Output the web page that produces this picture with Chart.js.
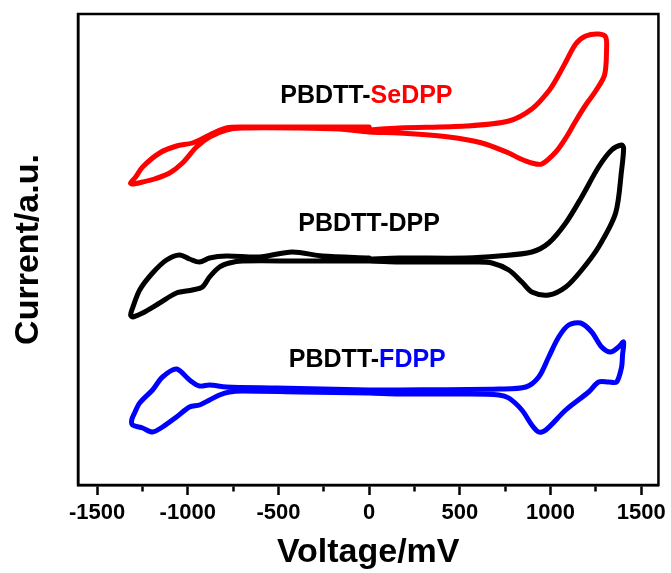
<!DOCTYPE html>
<html>
<head>
<meta charset="utf-8">
<script src="https://cdn.jsdelivr.net/npm/chart.js@4/dist/chart.umd.min.js"></script>
<style>
  html, body { margin: 0; padding: 0; background: #ffffff; }
  #wrap { width: 671px; height: 573px; }
</style>
</head>
<body>
<div id="wrap"><canvas id="c" width="671" height="573"></canvas></div>
<script>
// ---- data (voltage in mV, current in arbitrary units) ----
const seDppV = [0, 165, 534, 770, 897, 990, 1045, 1084, 1139, 1194, 1265, 1304, 1309, 1298, 1249, 1194, 1139, 1084, 1029, 952, 897, 825, 770, 622, 440, 165, 0, -165, -385, -699, -787, -880, -952, -1029, -1100, -1183, -1249, -1304, -1315, -1287, -1249, -1155, -1062, -974, -880, -787, -699, -385, 0];
const seDppI = [35.5, 35.7, 35.9, 36.4, 37.6, 39.4, 41.0, 42.3, 44.1, 44.9, 45.1, 44.8, 43.5, 41.0, 39.4, 38.0, 36.4, 34.7, 33.3, 32.1, 32.2, 32.7, 33.2, 34.2, 34.8, 35.2, 35.3, 35.6, 35.7, 35.7, 35.5, 34.8, 33.8, 32.2, 31.2, 30.6, 30.3, 30.1, 30.2, 30.8, 31.8, 33.2, 33.9, 34.2, 35.0, 35.7, 35.8, 35.8, 35.8];

const dppV = [0, 165, 534, 715, 897, 990, 1084, 1172, 1265, 1337, 1392, 1403, 1392, 1359, 1265, 1172, 1084, 990, 897, 842, 770, 677, 589, 165, 0, -385, -699, -770, -825, -880, -919, -974, -1062, -1155, -1249, -1304, -1315, -1304, -1265, -1194, -1117, -1045, -990, -935, -880, -787, -605, -424, -258, 0];
const dppI = [22.6, 22.7, 22.7, 22.9, 23.3, 24.2, 26.2, 28.8, 31.8, 33.5, 34.0, 33.7, 31.5, 27.2, 23.8, 21.5, 19.8, 19.0, 19.3, 20.3, 21.5, 22.2, 22.3, 22.3, 22.4, 22.4, 22.4, 22.2, 21.8, 20.8, 19.8, 19.5, 19.2, 18.2, 17.2, 16.8, 17.0, 17.7, 19.5, 21.2, 22.5, 23.0, 22.6, 22.3, 22.7, 22.9, 22.8, 23.3, 22.9, 22.7];

const fdppV = [0, 165, 715, 864, 935, 990, 1045, 1100, 1166, 1227, 1282, 1331, 1375, 1403, 1397, 1392, 1364, 1320, 1265, 1210, 1084, 974, 935, 897, 842, 770, 715, 534, 165, 0, -385, -699, -770, -825, -880, -935, -990, -1062, -1139, -1194, -1249, -1304, -1309, -1293, -1265, -1194, -1139, -1062, -990, -935, -880, -787, -512, 0];
const fdppI = [9.5, 9.5, 9.6, 9.8, 10.8, 12.8, 14.8, 16.0, 16.2, 15.3, 13.8, 13.3, 13.8, 14.3, 13.0, 11.8, 10.3, 10.3, 10.3, 9.3, 7.5, 5.5, 5.3, 6.0, 7.5, 8.7, 9.0, 9.1, 9.1, 9.2, 9.3, 9.4, 9.3, 9.0, 8.5, 8.0, 7.8, 6.8, 5.8, 5.3, 5.7, 6.0, 6.5, 7.2, 8.2, 9.5, 10.8, 11.6, 10.5, 9.9, 10.0, 9.8, 9.7, 9.5];

const xTickValues = [-1500, -1250, -1000, -750, -500, -250, 0, 250, 500, 750, 1000, 1250, 1500];
const xLabelValues = [-1500, -1000, -500, 0, 500, 1000, 1500];

const seriesNames = ['PBDTT-SeDPP', 'PBDTT-DPP', 'PBDTT-FDPP'];
const seriesColors = ['#ff0000', '#000000', '#0000ff'];
// label: prefix (black) + suffix (series colour), anchored at a data point
const labelPrefix = ['PBDTT-', 'PBDTT-', 'PBDTT-'];
const labelSuffix = ['SeDPP', 'DPP', 'FDPP'];
const labelAnchorV = [-15, 0, -10];
const labelAnchorI = [38.9, 26.1, 12.5];

const toPts = (xs, ys) => xs.map((x, i) => ({ x: x, y: ys[i] }));
const FONT = "'Liberation Sans', Arial, Helvetica, sans-serif";

const boxPlugin = {
  id: 'box',
  afterDraw(chart) {
    const { ctx, chartArea: a } = chart;
    ctx.save();
    ctx.strokeStyle = '#000';
    ctx.lineWidth = 2.5;
    ctx.strokeRect(a.left, a.top, a.right - a.left, a.bottom - a.top);
    ctx.restore();
  }
};

const labelPlugin = {
  id: 'seriesLabels',
  afterDatasetsDraw(chart) {
    const { ctx, scales } = chart;
    ctx.save();
    ctx.font = 'bold 25px ' + FONT;
    ctx.textBaseline = 'middle';
    ctx.textAlign = 'left';
    for (let i = 0; i < labelPrefix.length; i++) {
      const cx = scales.x.getPixelForValue(labelAnchorV[i]);
      const cy = scales.y.getPixelForValue(labelAnchorI[i]);
      const w1 = ctx.measureText(labelPrefix[i]).width;
      const w2 = ctx.measureText(labelSuffix[i]).width;
      const x0 = cx - (w1 + w2) / 2;
      ctx.fillStyle = '#000000';
      ctx.fillText(labelPrefix[i], x0, cy);
      ctx.fillStyle = seriesColors[i];
      ctx.fillText(labelSuffix[i], x0 + w1, cy);
    }
    ctx.restore();
  }
};

const datasets = [
  { label: seriesNames[0], data: toPts(seDppV, seDppI), borderColor: seriesColors[0] },
  { label: seriesNames[1], data: toPts(dppV, dppI), borderColor: seriesColors[1] },
  { label: seriesNames[2], data: toPts(fdppV, fdppI), borderColor: seriesColors[2] }
].map(d => Object.assign(d, {
  showLine: true, pointRadius: 0, borderWidth: 5, tension: 0.3, fill: false,
  borderJoinStyle: 'round', borderCapStyle: 'round'
}));

new Chart(document.getElementById('c'), {
  type: 'scatter',
  data: { datasets },
  plugins: [boxPlugin, labelPlugin],
  options: {
    responsive: false,
    animation: false,
    devicePixelRatio: 1,
    layout: { padding: { top: 14, right: 11, left: 0, bottom: 0 } },
    plugins: { legend: { display: false }, tooltip: { enabled: false } },
    scales: {
      x: {
        type: 'linear',
        min: -1605, max: 1595,
        afterBuildTicks: s => { s.ticks = xTickValues.map(v => ({ value: v })); },
        afterFit: s => { s.height = 88; },
        ticks: {
          autoSkip: false, maxRotation: 0, padding: 5, color: '#000',
          font: { family: FONT, weight: 'bold', size: 22 },
          callback: v => (xLabelValues.includes(v) ? String(v) : '')
        },
        grid: {
          display: true, drawOnChartArea: false, drawTicks: true,
          tickLength: 10, tickWidth: 2.5, tickColor: '#000',
          tickBorderDash: c => (c.tick && !xLabelValues.includes(c.tick.value) ? [5, 60] : [])
        },
        border: { display: true, color: '#000', width: 2.5 },
        title: {
          display: true, text: 'Voltage/mV', color: '#000',
          font: { family: FONT, weight: 'bold', size: 34 },
          padding: { top: 0, bottom: 0 }
        }
      },
      y: {
        type: 'linear',
        min: 0, max: 47.1,
        afterFit: s => { s.width = 78; },
        ticks: { display: false },
        grid: { display: false },
        border: { display: true, color: '#000', width: 2.5 },
        title: {
          display: true, text: 'Current/a.u.', color: '#000',
          font: { family: FONT, weight: 'bold', size: 34 },
          padding: { top: 8, bottom: 0 }
        }
      }
    }
  }
});
</script>
</body>
</html>
